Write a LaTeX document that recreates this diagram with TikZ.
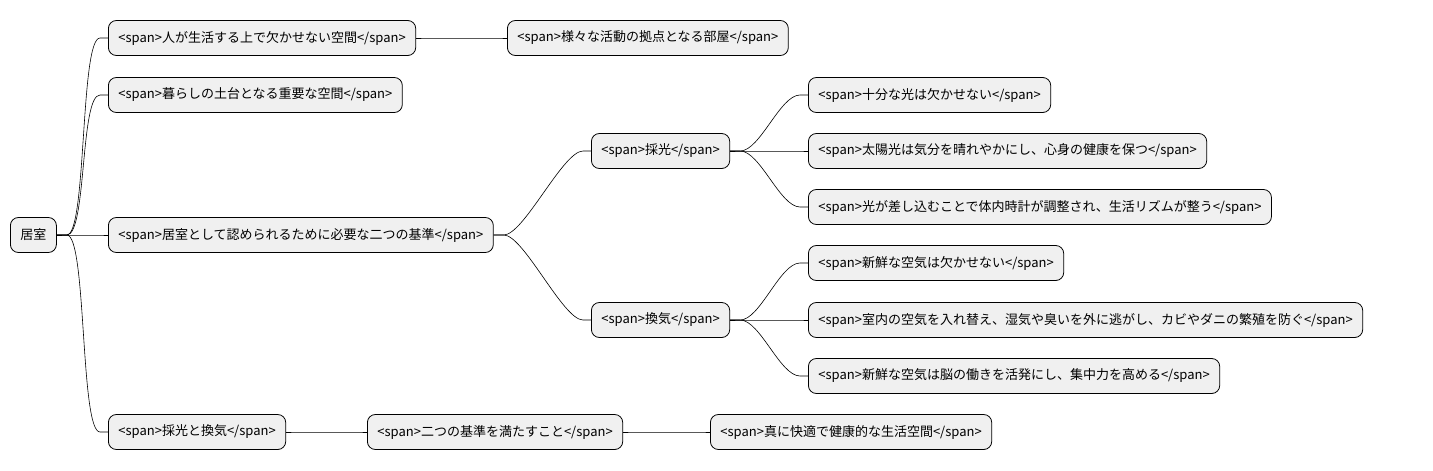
\documentclass[tikz,border=0pt]{standalone}
\usepackage{fontspec}
\setmainfont{Noto Sans CJK JP}
\begin{document}
\begin{tikzpicture}[x=1pt,y=-1pt,
  b/.style={draw=black,fill=black!6,rounded corners=8pt,minimum height=35pt,inner xsep=10pt,anchor=west,font=\fontsize{13}{15}\selectfont,line width=0.8pt},
  c/.style={line width=0.6pt}]
\useasboundingbox (0,0) rectangle (1433,471);
\node[b] (r) at (10,235) {居室};
\node[b] (n1) at (108,38) {<span>人が生活する上で欠かせない空間</span>};
\node[b] (n1a) at (507,38) {<span>様々な活動の拠点となる部屋</span>};
\node[b] (n2) at (108,95) {<span>暮らしの土台となる重要な空間</span>};
\node[b] (n3) at (108,235) {<span>居室として認められるために必要な二つの基準</span>};
\node[b] (a) at (591,151) {<span>採光</span>};
\node[b] (a1) at (808,95) {<span>十分な光は欠かせない</span>};
\node[b] (a2) at (808,151) {<span>太陽光は気分を晴れやかにし、心身の健康を保つ</span>};
\node[b] (a3) at (808,207) {<span>光が差し込むことで体内時計が調整され、生活リズムが整う</span>};
\node[b] (v) at (591,320) {<span>換気</span>};
\node[b] (v1) at (808,263) {<span>新鮮な空気は欠かせない</span>};
\node[b] (v2) at (808,320) {<span>室内の空気を入れ替え、湿気や臭いを外に逃がし、カビやダニの繁殖を防ぐ</span>};
\node[b] (v3) at (808,376) {<span>新鮮な空気は脳の働きを活発にし、集中力を高める</span>};
\node[b] (n4) at (108,432) {<span>採光と換気</span>};
\node[b] (n4a) at (367,432) {<span>二つの基準を満たすこと</span>};
\node[b] (n4b) at (710,432) {<span>真に快適で健康的な生活空間</span>};
\foreach \p/\q in {r/n1,r/n2,r/n3,r/n4,n1/n1a,n3/a,n3/v,a/a1,a/a2,a/a3,v/v1,v/v2,v/v3,n4/n4a,n4a/n4b}
  \draw[c] (\p.east) -- ++(10,0) .. controls +(20,0) and +(-20,0) .. ([xshift=-8pt]\q.west) -- (\q.west);
\end{tikzpicture}
\end{document}
